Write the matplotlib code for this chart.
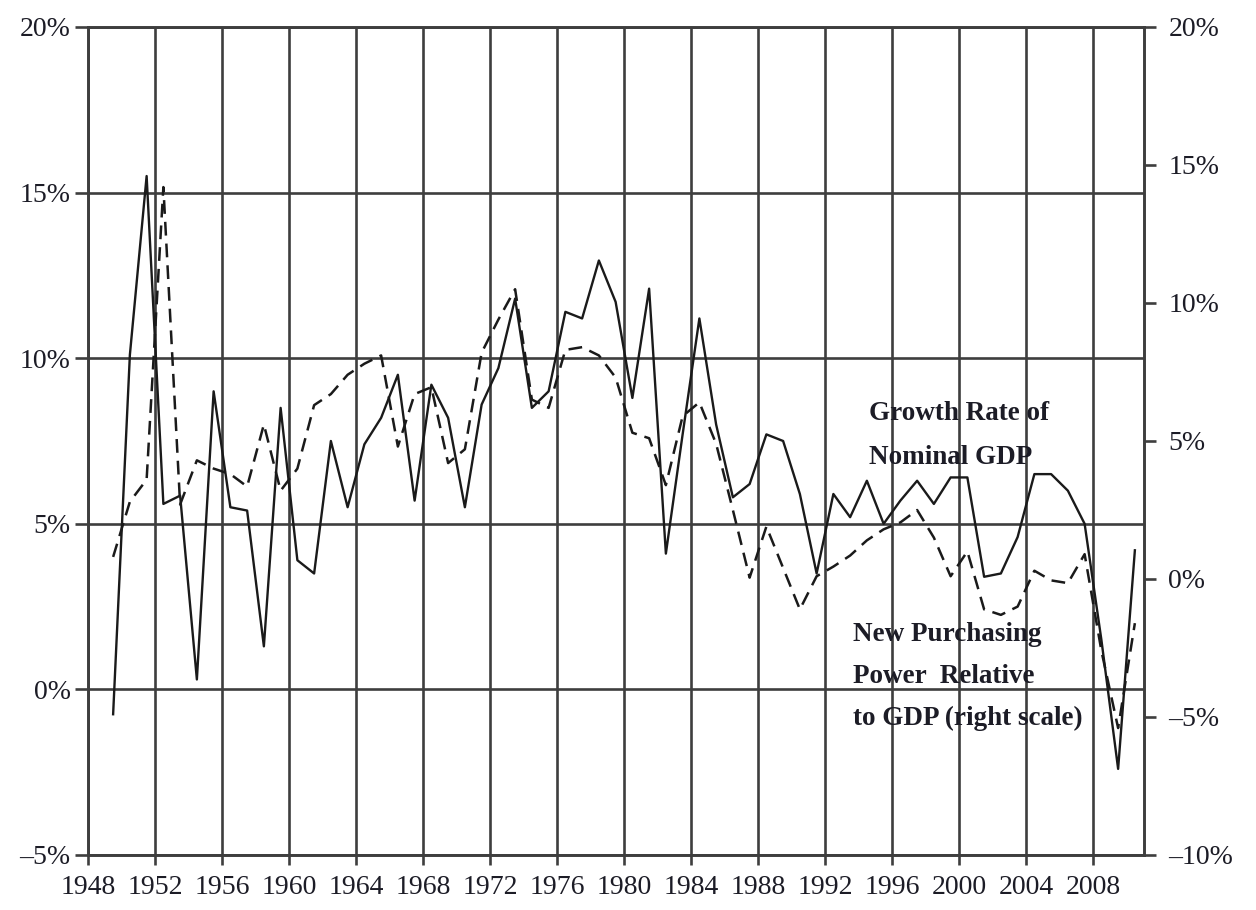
import matplotlib.pyplot as plt
import numpy as np

# Annual data, 1949-2010
years = np.arange(1949, 2011)

# Growth rate of nominal GDP (left scale, %)
gdp_growth = [
    -0.75, 10.1, 15.5, 5.6, 5.85, 0.3, 9.0, 5.5, 5.4, 1.3,      # 1949-1958
    8.5, 3.9, 3.5, 7.5, 5.5, 7.4, 8.2, 9.5, 5.7, 9.2,           # 1959-1968
    8.2, 5.5, 8.6, 9.7, 11.8, 8.5, 9.0, 11.4, 11.2, 12.95,      # 1969-1978
    11.7, 8.8, 12.1, 4.1, 7.7, 11.2, 8.0, 5.8, 6.2, 7.7,        # 1979-1988
    7.5, 5.9, 3.5, 5.9, 5.2, 6.3, 5.0, 5.7, 6.3, 5.6,           # 1989-1998
    6.4, 6.4, 3.4, 3.5, 4.6, 6.5, 6.5, 6.0, 5.0, 1.5,           # 1999-2008
    -2.4, 4.2,                                                  # 2009-2010
]

# New purchasing power relative to GDP (right scale, %)
purchasing_power = [
    0.8, 2.8, 3.6, 14.2, 2.7, 4.3, 4.0, 3.8, 3.35, 5.6,         # 1949-1958
    3.2, 4.0, 6.3, 6.7, 7.4, 7.8, 8.1, 4.8, 6.7, 6.95,          # 1959-1968
    4.2, 4.7, 8.2, 9.4, 10.5, 6.5, 6.2, 8.3, 8.4, 8.1,          # 1969-1978
    7.3, 5.3, 5.1, 3.4, 5.9, 6.4, 4.9, 2.5, 0.05, 1.9,          # 1979-1988
    0.4, -1.1, 0.1, 0.45, 0.85, 1.4, 1.8, 2.05, 2.5, 1.5,       # 1989-1998
    0.1, 1.0, -1.1, -1.3, -1.0, 0.3, -0.05, -0.15, 0.9, -2.6,   # 1999-2008
    -5.4, -1.6,                                                 # 2009-2010
]

x_ticks = list(range(1948, 2009, 4))
left_ticks = [-5, 0, 5, 10, 15, 20]
left_labels = ['\u20135%', '0%', '5%', '10%', '15%', '20%']
right_ticks = [-10, -5, 0, 5, 10, 15, 20]
right_labels = ['\u201310%', '\u20135%', '0%', '5%', '10%', '15%', '20%']

plt.rcParams['font.family'] = ['Liberation Serif', 'DejaVu Serif']

grid_color = '#3e3e3e'
line_color = '#1a1a1a'
text_color = '#1c1c26'

fig = plt.figure(figsize=(12.56, 9.10), dpi=100)
ax = fig.add_axes([88 / 1256, 55 / 910, 1056 / 1256, 828 / 910])

ax.set_xlim(1948, 1948 + 1056 / 16.75)
ax.set_ylim(-5, 20)

# the grid lines are the frame
ax.set_xticks(x_ticks)
ax.set_yticks(left_ticks, labels=left_labels)
ax.grid(True, color=grid_color, linewidth=1.9)
ax.set_axisbelow(True)
for side in ['left', 'bottom', 'top', 'right']:
    ax.spines[side].set_color(grid_color)
    ax.spines[side].set_linewidth(1.9)
ax.tick_params(axis='x', direction='out', length=7.5, width=1.9, color=grid_color,
               labelsize=20, labelcolor=text_color, pad=7)
ax.tick_params(axis='y', direction='out', length=9.5, width=1.9, color=grid_color,
               labelsize=20, labelcolor=text_color, pad=3)

# GDP growth on the left scale
ax.plot(years + 0.5, gdp_growth, color=line_color, linewidth=1.7, zorder=3)

# purchasing power on the right scale
ax2 = ax.twinx()
ax2.set_ylim(-10, 20)
ax2.set_yticks(right_ticks, labels=right_labels)
ax2.tick_params(axis='y', direction='out', length=8.5, width=1.9, color=grid_color,
                labelsize=20, labelcolor=text_color, pad=9)
for side in ['left', 'bottom', 'top', 'right']:
    ax2.spines[side].set_color(grid_color)
    ax2.spines[side].set_linewidth(1.9)
ax2.plot(years + 0.5, purchasing_power, color=line_color, linewidth=1.8,
         dashes=(5.5, 3.2), zorder=3)

# labels inside the plot
ax.text(1994.6, 8.7, 'Growth Rate of\nNominal GDP', fontsize=19.5, fontweight='bold',
        color=text_color, linespacing=2.0, va='top', ha='left')
ax.text(1993.7, 2.05, 'New Purchasing\nPower  Relative\nto GDP (right scale)',
        fontsize=19.5, fontweight='bold', color=text_color, linespacing=1.9,
        va='top', ha='left')

plt.savefig('out.png', dpi=100)
